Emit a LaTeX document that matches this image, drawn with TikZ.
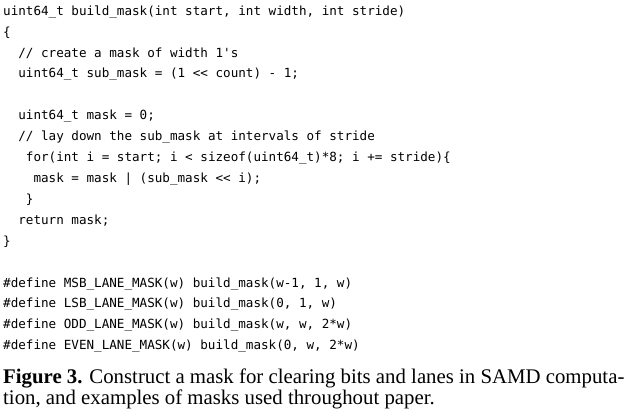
\documentclass[tikz,border=0pt]{standalone}
\usepackage{fontspec}
\setmainfont{Liberation Serif}
\setmonofont{DejaVu Sans Mono}
\begin{document}
\begin{tikzpicture}[x=1pt,y=-1pt,
  code/.style={anchor=west,inner sep=0pt,font=\fontsize{12.6}{14}\ttfamily},
  captxt/.style={anchor=west,inner sep=0pt,font=\fontsize{20.8}{22}\selectfont}]
\useasboundingbox (0,0) rectangle (640,419);
\def\ly{20.9}
\foreach \i/\t in {0/{uint64\_t build\_mask(int start, int width, int stride)},
  1/\{,
  2/{\ \ // create a mask of width 1's},
  3/{\ \ uint64\_t sub\_mask = (1 <{}< count) - 1;},
  5/{\ \ uint64\_t mask = 0;},
  6/{\ \ // lay down the sub\_mask at intervals of stride},
  7/{\ \ \ for(int i = start; i < sizeof(uint64\_t)*8; i += stride)\{},
  8/{\ \ \ \ mask = mask | (sub\_mask <{}< i);},
  9/{\ \ \ \}},
  10/{\ \ return mask;},
  11/\},
  13/{\#define MSB\_LANE\_MASK(w) build\_mask(w-1, 1, w)},
  14/{\#define LSB\_LANE\_MASK(w) build\_mask(0, 1, w)},
  15/{\#define ODD\_LANE\_MASK(w) build\_mask(w, w, 2*w)},
  16/{\#define EVEN\_LANE\_MASK(w) build\_mask(0, w, 2*w)}}
  \node[code] (l\i) at (3,12+\ly*\i) {\t};
\node[captxt] (c1) at (3,378) {\textbf{Figure 3.} Construct a mask for clearing bits and lanes in SAMD computa-};
\node[captxt] (c2) at (3,399) {tion, and examples of masks used throughout paper.};
\end{tikzpicture}
\end{document}
